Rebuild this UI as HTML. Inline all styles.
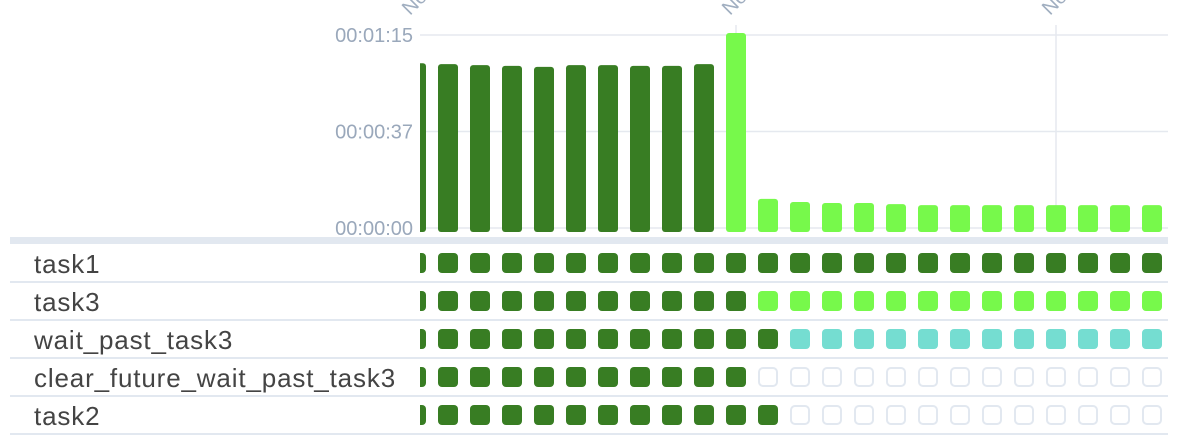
<!DOCTYPE html>
<html><head><meta charset="utf-8"><style>
html,body{margin:0;padding:0;background:#fff;width:1178px;height:448px;overflow:hidden}
svg{display:block;font-family:"Liberation Sans",sans-serif}
</style></head><body>
<svg id="c" width="1178" height="448">
<defs><clipPath id="clip"><rect x="420" y="0" width="758" height="448"/></clipPath></defs>
<g id="grid"></g>
<g id="yax"></g>
<g id="bars" clip-path="url(#clip)"></g>
<rect x="10" y="237" width="1158" height="7" fill="#e2e8f0"/>
<g id="rows"></g>
</svg>
<script>
const durations=[64,63.7,63.3,63,62.6,63.3,63.3,63,63,63.7,75.8,11.3,10.1,9.7,9.7,9.3,8.9,8.9,8.9,8.9,8.9,8.9,8.9,8.9];
const runStates=["success","success","success","success","success","success","success","success","success","success","running","running","running","running","running","running","running","running","running","running","running","running","running","running"];
const yTicks=[0,37.5,75];
const yTickLabels=["00:00:00","00:00:37","00:01:15"];
const tasks=["task1","task3","wait_past_task3","clear_future_wait_past_task3","task2"];
const taskDoneCounts=[24,11,12,11,12];
const taskNextStates=["success","running","up_for_reschedule","none","none"];
const xTickCols=[0,10,20];
const colors={success:"#387d23",running:"#77f94b",up_for_reschedule:"#75ddd1"};
const NS="http://www.w3.org/2000/svg";
const X0=406,PITCH=32,BW=20,Y0=228,YMAX=75,YTOP=35;
const xCol=i=>X0+i*PITCH;
const yVal=v=>Y0-(v/YMAX)*(Y0-YTOP);
function mk(t,a,p){const e=document.createElementNS(NS,t);for(const k in a)e.setAttribute(k,a[k]);p.appendChild(e);return e;}
const grid=document.getElementById('grid'),yax=document.getElementById('yax'),bars=document.getElementById('bars'),rows=document.getElementById('rows');
yTicks.forEach((v,i)=>{
  const l=mk('line',{x1:420,x2:1168,y1:yVal(v),y2:yVal(v),stroke:'#e5e9ef','stroke-width':1.5},grid);
  
  
  const t=mk('text',{x:413,y:yVal(v)+7,'text-anchor':'end','font-size':20,fill:'#9aa8bb'},yax);
  t.textContent=yTickLabels[i];
  
  
});
xTickCols.forEach(c=>{
  const x=xCol(c)+BW/2;
  if(x>425){const l=mk('line',{x1:x,x2:x,y1:25,y2:232,stroke:'#e5e9ef','stroke-width':1.5},grid);
  
  }
  const t=mk('text',{x:0,y:0,'font-size':20,fill:'#a0aec0',transform:`translate(${x-6},${16}) rotate(-45)`},yax);
  t.textContent='Nov 10';
  
  
});
durations.forEach((d,i)=>{
  const y=yVal(d);
  const r=mk('rect',{x:xCol(i),y:y,width:BW,height:232-y,rx:3,fill:colors[runStates[i]]},bars);
  
  
});
tasks.forEach((name,ri)=>{
  const top=244+ri*38;
  const ln=mk('line',{x1:10,x2:1168,y1:top+38,y2:top+38,stroke:'#e2e8f0','stroke-width':2},rows);
  
  
  const t=mk('text',{x:34,y:top+29,'font-size':26,'letter-spacing':0.85,fill:'#444'},rows);
  t.textContent=name;
  
  
  const g=mk('g',{'clip-path':'url(#clip)'},rows);
  for(let i=0;i<durations.length;i++){
    const st=i<taskDoneCounts[ri]?'success':taskNextStates[ri];
    const a={x:xCol(i),y:top+9,width:BW,height:BW,rx:4};
    if(st==='none'){a.x+=1;a.y+=1;a.width=18;a.height=18;a.fill='#fff';a.stroke='#e2e8f0';a['stroke-width']=2;}
    else a.fill=colors[st];
    const s=mk('rect',a,g);
    
    
  }
});
</script>
</body></html>
